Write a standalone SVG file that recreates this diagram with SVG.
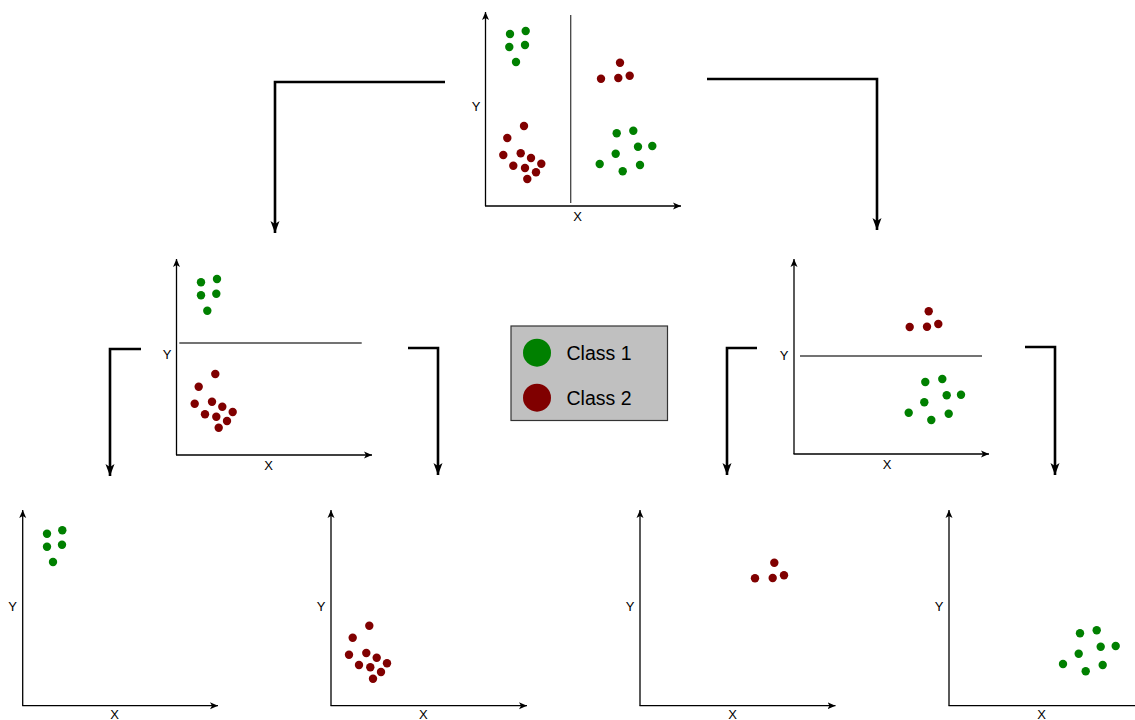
<svg xmlns="http://www.w3.org/2000/svg" width="1135" height="720" viewBox="0 0 1135 720">
<defs>
<marker id="ax" markerUnits="userSpaceOnUse" markerWidth="10" markerHeight="8" refX="8" refY="3.5" orient="auto" viewBox="0 0 10 7"><path d="M0,0 L8,3.5 L0,7 L2,3.5 Z" fill="#000"/></marker>
<marker id="ar" markerUnits="userSpaceOnUse" markerWidth="14" markerHeight="10" refX="12" refY="4.5" orient="auto" viewBox="0 0 14 9"><path d="M0,0 L12,4.5 L0,9 L3,4.5 Z" fill="#000"/></marker>
</defs>
<style>
.axis{stroke:#000;stroke-width:1.3;fill:none;marker-end:url(#ax)}
.split{stroke:#444;stroke-width:1.3;fill:none}
.lbl{font-family:"Liberation Sans",Arial,sans-serif;font-size:13px;fill:#000;text-anchor:middle}
.g{fill:#008000}
.r{fill:#800000}
.conn{stroke:#000;stroke-width:2.6;fill:none;marker-end:url(#ar)}
.leg{font-family:"Liberation Sans",Arial,sans-serif;font-size:19.5px;fill:#000}
</style>
<rect width="1135" height="720" fill="#fff"/>
<g id="connectors">
<path class="conn" d="M445,82 H275 V233"/>
<path class="conn" d="M707,79 H877 V230"/>
<path class="conn" d="M141,349 H110 V476"/>
<path class="conn" d="M408,348 H438 V475"/>
<path class="conn" d="M757,348 H727 V475"/>
<path class="conn" d="M1025,347 H1055 V475"/>
</g>
<g id="plot-root">
<line class="axis" x1="485.5" y1="206" x2="485.5" y2="12"/>
<line class="axis" x1="485" y1="206" x2="681" y2="206"/>
<line class="split" x1="570.7" y1="15" x2="570.7" y2="203"/>
<text class="lbl" x="476" y="111">Y</text>
<text class="lbl" x="577.5" y="221">X</text>
<circle class="g" cx="510" cy="34" r="4.2"/><circle class="g" cx="525.7" cy="31" r="4.2"/><circle class="g" cx="509.3" cy="47" r="4.2"/><circle class="g" cx="525" cy="45" r="4.2"/><circle class="g" cx="516" cy="62" r="4.2"/>
<circle class="r" cx="620" cy="62.7" r="4.2"/><circle class="r" cx="601" cy="78.7" r="4.2"/><circle class="r" cx="618.3" cy="78" r="4.2"/><circle class="r" cx="629.7" cy="75.7" r="4.2"/>
<circle class="r" cx="524" cy="126" r="4.2"/><circle class="r" cx="507.3" cy="138" r="4.2"/><circle class="r" cx="503.3" cy="155" r="4.2"/><circle class="r" cx="520.7" cy="153.3" r="4.2"/><circle class="r" cx="531" cy="158" r="4.2"/><circle class="r" cx="541.3" cy="163.7" r="4.2"/><circle class="r" cx="513.3" cy="165.7" r="4.2"/><circle class="r" cx="525" cy="168" r="4.2"/><circle class="r" cx="536" cy="172.3" r="4.2"/><circle class="r" cx="527.3" cy="179" r="4.2"/>
<circle class="g" cx="616.7" cy="133.3" r="4.2"/><circle class="g" cx="633.3" cy="130.7" r="4.2"/><circle class="g" cx="638" cy="146.7" r="4.2"/><circle class="g" cx="652.3" cy="146" r="4.2"/><circle class="g" cx="615.7" cy="153.7" r="4.2"/><circle class="g" cx="599.7" cy="164" r="4.2"/><circle class="g" cx="640" cy="165" r="4.2"/><circle class="g" cx="622.7" cy="171.3" r="4.2"/>
</g>
<g id="plot-left">
<line class="axis" x1="176.5" y1="455" x2="176.5" y2="259"/>
<line class="axis" x1="176" y1="455" x2="372" y2="455"/>
<line class="split" x1="179.3" y1="343" x2="361.7" y2="343"/>
<text class="lbl" x="167" y="359">Y</text>
<text class="lbl" x="268.5" y="469.5">X</text>
<circle class="g" cx="201" cy="282.3" r="4.2"/><circle class="g" cx="217" cy="279" r="4.2"/><circle class="g" cx="201" cy="295.3" r="4.2"/><circle class="g" cx="216.3" cy="293.7" r="4.2"/><circle class="g" cx="207.3" cy="310.7" r="4.2"/>
<circle class="r" cx="215.3" cy="374" r="4.2"/><circle class="r" cx="198.7" cy="386.7" r="4.2"/><circle class="r" cx="194.7" cy="403.7" r="4.2"/><circle class="r" cx="212" cy="401.7" r="4.2"/><circle class="r" cx="222.3" cy="406.7" r="4.2"/><circle class="r" cx="232.7" cy="412" r="4.2"/><circle class="r" cx="205" cy="414.3" r="4.2"/><circle class="r" cx="216.3" cy="416.7" r="4.2"/><circle class="r" cx="227" cy="421" r="4.2"/><circle class="r" cx="218.7" cy="427.7" r="4.2"/>
</g>
<g id="plot-right">
<line class="axis" x1="794" y1="454" x2="794" y2="259"/>
<line class="axis" x1="793.5" y1="454" x2="989" y2="454"/>
<line class="split" x1="800" y1="356" x2="982" y2="356"/>
<text class="lbl" x="784" y="360">Y</text>
<text class="lbl" x="887" y="469">X</text>
<circle class="r" cx="928.7" cy="311.3" r="4.2"/><circle class="r" cx="909.7" cy="327" r="4.2"/><circle class="r" cx="927" cy="326.7" r="4.2"/><circle class="r" cx="938.3" cy="324" r="4.2"/>
<circle class="g" cx="925.3" cy="382" r="4.2"/><circle class="g" cx="942.3" cy="379" r="4.2"/><circle class="g" cx="946.7" cy="395.3" r="4.2"/><circle class="g" cx="961" cy="394.7" r="4.2"/><circle class="g" cx="924.3" cy="402.3" r="4.2"/><circle class="g" cx="908.7" cy="412.7" r="4.2"/><circle class="g" cx="948.7" cy="413.7" r="4.2"/><circle class="g" cx="931.3" cy="420" r="4.2"/>
</g>
<g id="legend">
<rect x="511" y="326" width="156.5" height="94.5" fill="#c0c0c0" stroke="#333" stroke-width="1.2"/>
<circle class="g" cx="537" cy="352.7" r="14"/>
<circle class="r" cx="537" cy="397.7" r="14"/>
<text class="leg" x="566.5" y="360">Class 1</text>
<text class="leg" x="566.5" y="405">Class 2</text>
</g>
<g id="leaf-1">
<line class="axis" x1="22.7" y1="705.7" x2="22.7" y2="510"/>
<line class="axis" x1="22.2" y1="705.7" x2="218" y2="705.7"/>
<text class="lbl" x="12.5" y="610.5">Y</text>
<text class="lbl" x="114.7" y="718.5">X</text>
<circle class="g" cx="47" cy="533.7" r="4.2"/><circle class="g" cx="62.3" cy="530.3" r="4.2"/><circle class="g" cx="47" cy="546.7" r="4.2"/><circle class="g" cx="62" cy="544.7" r="4.2"/><circle class="g" cx="53" cy="562" r="4.2"/>
</g>
<g id="leaf-2">
<line class="axis" x1="331" y1="705.7" x2="331" y2="510"/>
<line class="axis" x1="330.5" y1="705.7" x2="527" y2="705.7"/>
<text class="lbl" x="321" y="610.5">Y</text>
<text class="lbl" x="423.3" y="718.5">X</text>
<circle class="r" cx="369.3" cy="625.7" r="4.2"/><circle class="r" cx="352.7" cy="637.7" r="4.2"/><circle class="r" cx="349" cy="654.7" r="4.2"/><circle class="r" cx="366.3" cy="653" r="4.2"/><circle class="r" cx="376.7" cy="657.7" r="4.2"/><circle class="r" cx="387" cy="663.3" r="4.2"/><circle class="r" cx="359" cy="665" r="4.2"/><circle class="r" cx="370.3" cy="667.3" r="4.2"/><circle class="r" cx="381" cy="672" r="4.2"/><circle class="r" cx="373" cy="678.7" r="4.2"/>
</g>
<g id="leaf-3">
<line class="axis" x1="640" y1="705.7" x2="640" y2="510"/>
<line class="axis" x1="639.5" y1="705.7" x2="835.5" y2="705.7"/>
<text class="lbl" x="630" y="610.5">Y</text>
<text class="lbl" x="732.7" y="718.5">X</text>
<circle class="r" cx="774.3" cy="562.7" r="4.2"/><circle class="r" cx="755" cy="578.3" r="4.2"/><circle class="r" cx="772.7" cy="578" r="4.2"/><circle class="r" cx="784" cy="575.3" r="4.2"/>
</g>
<g id="leaf-4">
<line class="axis" x1="949" y1="705.7" x2="949" y2="510"/>
<line class="axis" x1="948.5" y1="705.7" x2="1143" y2="705.7"/>
<text class="lbl" x="939" y="610.5">Y</text>
<text class="lbl" x="1041.7" y="718.5">X</text>
<circle class="g" cx="1080" cy="633.3" r="4.2"/><circle class="g" cx="1096.7" cy="630.3" r="4.2"/><circle class="g" cx="1100.7" cy="646.7" r="4.2"/><circle class="g" cx="1115.7" cy="646" r="4.2"/><circle class="g" cx="1078.7" cy="653.7" r="4.2"/><circle class="g" cx="1063" cy="664" r="4.2"/><circle class="g" cx="1102.7" cy="665" r="4.2"/><circle class="g" cx="1085.7" cy="671.3" r="4.2"/>
</g>
</svg>
